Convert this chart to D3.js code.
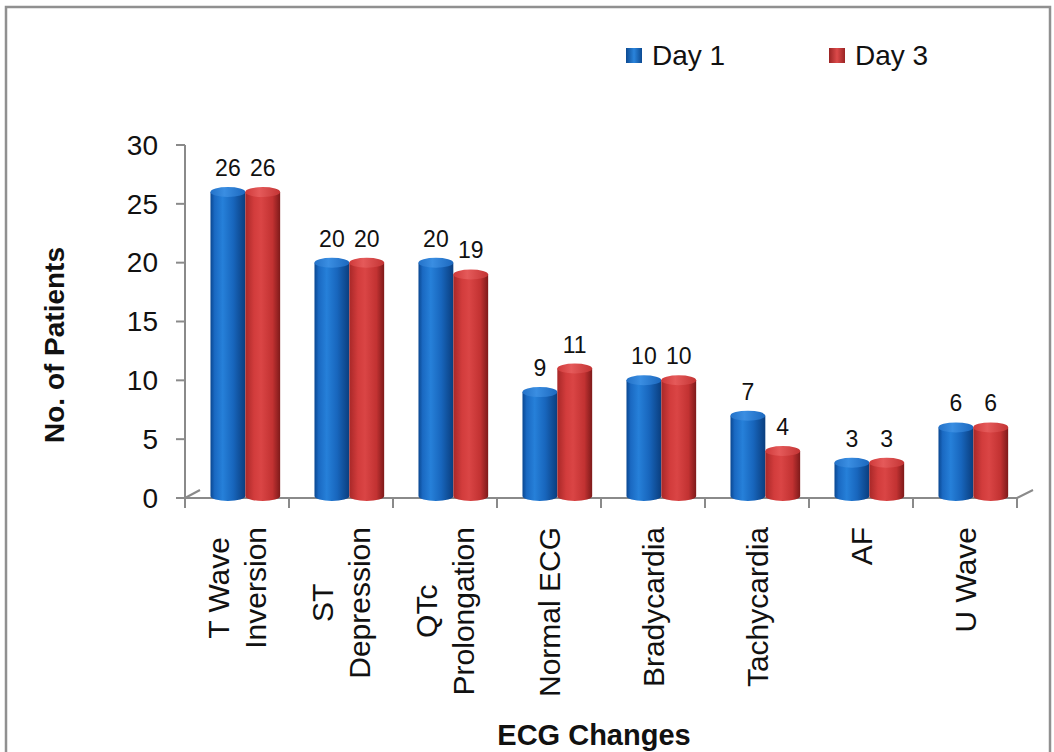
<!DOCTYPE html>
<html>
<head>
<meta charset="utf-8">
<script src="https://cdn.jsdelivr.net/npm/d3@7"></script>
<style>
  html, body { margin: 0; padding: 0; background: #fff; }
  svg { display: block; font-family: "Liberation Sans", Arial, sans-serif; }
</style>
</head>
<body>
<div id="chart"></div>
<script>
const svgWidth = 1054
const svgHeight = 752

// chart data
const categories = [["T Wave", "Inversion"], ["ST", "Depression"], ["QTc", "Prolongation"],
  ["Normal ECG"], ["Bradycardia"], ["Tachycardia"], ["AF"], ["U Wave"]]
const seriesNames = ["Day 1", "Day 3"]
const day1 = [26, 20, 20, 9, 10, 7, 3, 6]
const day3 = [26, 20, 19, 11, 10, 4, 3, 6]
const yTicks = [0, 5, 10, 15, 20, 25, 30]

const svg = d3.select("#chart")
  .append("svg")
  .attr("width", svgWidth)
  .attr("height", svgHeight)

// outer frame
svg.append("rect")
  .attr("x", 6).attr("y", 7)
  .attr("width", svgWidth - 10).attr("height", svgHeight + 20)
  .attr("fill", "none")
  .attr("stroke", "#909090")
  .attr("stroke-width", 2.5)

const defs = svg.append("defs")
function grad(id, stops) {
  const g = defs.append("linearGradient").attr("id", id)
    .attr("x1", "0%").attr("x2", "100%").attr("y1", "0%").attr("y2", "0%")
  stops.forEach(s => g.append("stop").attr("offset", s[0]).attr("stop-color", s[1]))
}
grad("body0", [["0%", "#0a4791"], ["12%", "#1a69c2"], ["35%", "#2680d9"], ["65%", "#1866bd"], ["100%", "#0a3e7e"]])
grad("top0", [["0%", "#2472c8"], ["40%", "#3a8ee2"], ["100%", "#1c68be"]])
grad("body1", [["0%", "#a82828"], ["25%", "#d23c3c"], ["45%", "#da4545"], ["78%", "#c23232"], ["100%", "#7e1a1a"]])
grad("top1", [["0%", "#cf3a3a"], ["40%", "#e55a5a"], ["100%", "#c33434"]])
grad("leg0", [["0%", "#0c4a92"], ["50%", "#2a84dc"], ["100%", "#0c4a92"]])
grad("leg1", [["0%", "#9a2424"], ["50%", "#dc4a4a"], ["100%", "#9a2424"]])

const x0 = d3.scaleBand()
  .domain(d3.range(categories.length))
  .range([185, 1017])

const x1 = d3.scaleBand()
  .domain(seriesNames)
  .range([x0.bandwidth() * 0.245, x0.bandwidth() * 0.915])

const y = d3.scaleLinear().domain([0, 30]).range([498, 145])

const axisColor = "#8a8a8a"

// y axis
const yAxis = svg.append("g")
yAxis.append("line")
  .attr("x1", 185).attr("x2", 185)
  .attr("y1", y(30)).attr("y2", y(0))
  .attr("stroke", axisColor).attr("stroke-width", 2)
yAxis.selectAll(".yt").data(yTicks).enter().append("line")
  .attr("x1", 176).attr("x2", 185)
  .attr("y1", d => y(d)).attr("y2", d => y(d))
  .attr("stroke", axisColor).attr("stroke-width", 2)
yAxis.selectAll(".yl").data(yTicks).enter().append("text")
  .attr("x", 158).attr("y", d => y(d))
  .attr("dy", "0.35em")
  .attr("text-anchor", "end")
  .attr("font-size", 28)
  .attr("fill", "#111")
  .text(d => d)

// floor
const floor = svg.append("g")
floor.append("line")
  .attr("x1", 185).attr("x2", 1017).attr("y1", y(0)).attr("y2", y(0))
  .attr("stroke", axisColor).attr("stroke-width", 2)
floor.append("line")
  .attr("x1", 185).attr("x2", 200).attr("y1", y(0)).attr("y2", y(0) - 8)
  .attr("stroke", axisColor).attr("stroke-width", 2)
floor.append("line")
  .attr("x1", 1017).attr("x2", 1033).attr("y1", y(0)).attr("y2", y(0) - 8)
  .attr("stroke", axisColor).attr("stroke-width", 2)
floor.selectAll(".xt").data(d3.range(categories.length + 1)).enter().append("line")
  .attr("x1", d => 185 + d * x0.bandwidth()).attr("x2", d => 185 + d * x0.bandwidth())
  .attr("y1", y(0)).attr("y2", y(0) + 10)
  .attr("stroke", axisColor).attr("stroke-width", 2)

// bars
const rows = categories.map((c, i) => ({ i, values: [day1[i], day3[i]] }))
const ry = 5
const group = svg.append("g").selectAll("g")
  .data(rows).enter().append("g")
  .attr("transform", d => `translate(${x0(d.i)},0)`)

const bar = group.selectAll("g")
  .data(d => d.values.map((v, k) => ({ v, k, name: seriesNames[k] })))
  .enter().append("g")

bar.append("path")
  .attr("d", d => {
    const xl = x1(d.name), w = x1.bandwidth(), top = y(d.v), bot = y(0) - 2
    return `M${xl},${top} L${xl},${bot} A${w / 2},${ry} 0 0 0 ${xl + w},${bot} L${xl + w},${top} Z`
  })
  .attr("fill", d => `url(#body${d.k})`)

bar.append("ellipse")
  .attr("cx", d => x1(d.name) + x1.bandwidth() / 2)
  .attr("cy", d => y(d.v))
  .attr("rx", x1.bandwidth() / 2)
  .attr("ry", ry)
  .attr("fill", d => `url(#top${d.k})`)

bar.append("text")
  .attr("x", d => x1(d.name) + x1.bandwidth() / 2)
  .attr("y", d => y(d.v) - 16)
  .attr("text-anchor", "middle")
  .attr("font-size", 23)
  .attr("fill", "#111")
  .text(d => d.v)

// category labels, rotated
const lineGap = 37
const labels = svg.append("g").selectAll("g")
  .data(categories).enter().append("g")
labels.each(function (lines, i) {
  const g = d3.select(this)
  const cx = x0(i) + x0.bandwidth() / 2
  const texts = lines.map((t, j) => g.append("text")
    .attr("font-size", 30)
    .attr("fill", "#111")
    .attr("text-anchor", "middle")
    .attr("dy", "0.35em")
    .text(t))
  const maxLen = d3.max(texts, t => t.node().getComputedTextLength())
  texts.forEach((t, j) => {
    const lx = cx + (j - (lines.length - 1) / 2) * lineGap
    t.attr("transform", `translate(${lx},${527 + maxLen / 2}) rotate(-90)`)
  })
})

// axis titles
svg.append("text")
  .attr("transform", `translate(54,345) rotate(-90)`)
  .attr("dy", "0.35em")
  .attr("text-anchor", "middle")
  .attr("font-size", 28)
  .attr("font-weight", "bold")
  .attr("fill", "#111")
  .text("No. of Patients")

svg.append("text")
  .attr("x", 594).attr("y", 745)
  .attr("text-anchor", "middle")
  .attr("font-size", 29)
  .attr("font-weight", "bold")
  .attr("fill", "#111")
  .text("ECG Changes")

// legend
const legend = svg.append("g").selectAll("g")
  .data(seriesNames).enter().append("g")
  .attr("transform", (d, i) => `translate(${626 + i * 203},48)`)
legend.append("rect")
  .attr("width", 16).attr("height", 15)
  .attr("fill", (d, i) => `url(#leg${i})`)
legend.append("text")
  .attr("x", 26).attr("y", 17)
  .attr("font-size", 28)
  .attr("fill", "#111")
  .text(d => d)
</script>
</body>
</html>
